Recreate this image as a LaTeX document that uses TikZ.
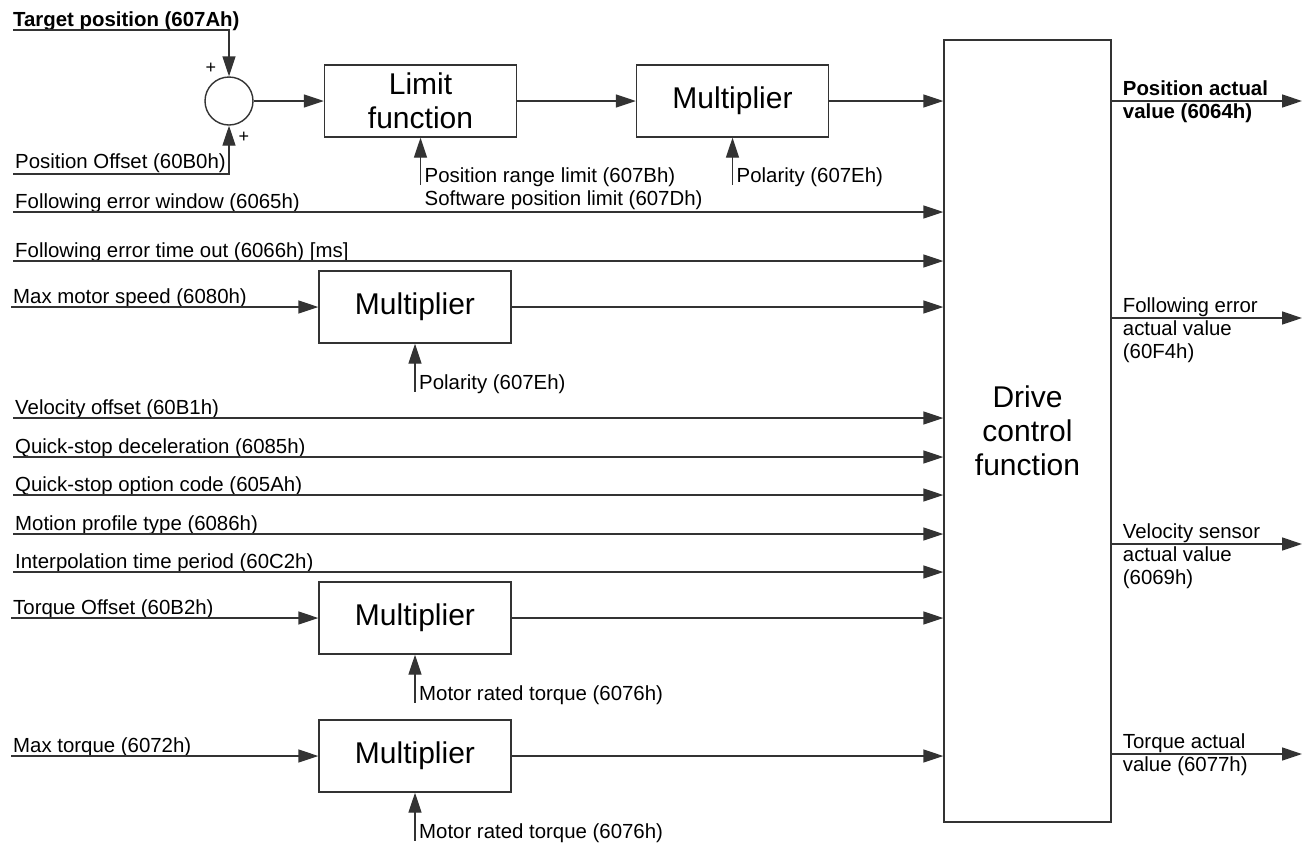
\documentclass[tikz,border=0pt]{standalone}
\usepackage{fontspec}
\setmainfont{Liberation Sans}
\usetikzlibrary{arrows.meta}
\usetikzlibrary{positioning}
\tikzset{
    blk/.style={draw=black!80, line width=1.4pt, minimum width=192pt, minimum height=72pt, align=center, inner sep=0pt, font=\fontsize{30}{34}\selectfont},
    sig/.style={draw=black!80, line width=1.4pt, -{Triangle[length=20pt,width=13pt]}},
    lbl/.style={anchor=base west, inner sep=0pt, font=\fontsize{20.4}{23}\selectfont},
    pm/.style={inner sep=0pt, font=\fontsize{18}{20}\selectfont}
}
\newcommand{\stack}[1]{\begin{tabular}[t]{@{}l@{}}#1\end{tabular}}

\begin{document}
\begin{tikzpicture}[x=1pt,y=-1pt]
\useasboundingbox (0,0) rectangle (1312,847);
% blocks
\node[blk, minimum width=167pt, minimum height=782pt] (dcf) at (1027.5,431) {Drive\\control\\function};
\node[draw=black!80, line width=1.4pt, circle, minimum size=48pt, inner sep=0pt] (sum) at (229,101) {};
\node[blk] (lim) at (420.5,101) {Limit\\function};
\node[blk] (mulp) at (732.5,101) {Multiplier};
\node[blk] (mulv) at (415,307) {Multiplier};
\node[blk] (mult) at (415,618) {Multiplier};
\node[blk] (mulm) at (415,756) {Multiplier};
% summing point
\coordinate (tp) at (13,30);
\coordinate (po) at (13,174);
\node[lbl, font=\fontsize{20.4}{23}\selectfont\bfseries] (ttp) at ([yshift=4pt]tp) {Target position (607Ah)};
\node[lbl] (tpo) at ([xshift=2pt,yshift=6pt]po) {Position Offset (60B0h)};
\draw[sig] (tp) -| (sum.north);
\draw[sig] (po) -| (sum.south);
\node[pm] (p1) at (211,68) {+};
\node[pm] (p2) at (244,137) {+};
\draw[sig] (sum) -- (lim);
\draw[sig] (lim) -- (mulp);
\draw[sig] (mulp.east) -- (mulp.east -| dcf.west);
% limits and polarity of the position path
\coordinate[below=47pt of lim] (plim);
\coordinate[below=47pt of mulp] (ppol);
\draw[sig] (plim) -- (lim);
\draw[sig] (ppol) -- (mulp);
\node[lbl] (tlim) at ([xshift=4pt,yshift=2pt]plim) {\stack{Position range limit (607Bh)\\Software position limit (607Dh)}};
\node[lbl] (tpol) at ([xshift=4pt,yshift=2pt]ppol) {Polarity (607Eh)};
% direct inputs
\foreach \y/\p/\t in {212/few/{Following error window (6065h)}, 261/fet/{Following error time out (6066h) [ms]}, 418/vof/{Velocity offset (60B1h)}, 457/qsd/{Quick-stop deceleration (6085h)}, 495/qso/{Quick-stop option code (605Ah)}, 534/mpt/{Motion profile type (6086h)}, 572/itp/{Interpolation time period (60C2h)}}{
    \coordinate (\p) at (13,\y);
    \node[lbl] (t\p) at ([xshift=2pt,yshift=4pt]\p) {\t};
    \draw[sig] (\p) -- (\p -| dcf.west);
}
% inputs through a multiplier
\foreach \b/\p/\t/\s/\q in {mulv/mms/{Max motor speed (6080h)}/pv/{Polarity (607Eh)}, mult/tof/{Torque Offset (60B2h)}/rt1/{Motor rated torque (6076h)}, mulm/mtq/{Max torque (6072h)}/rt2/{Motor rated torque (6076h)}}{
    \coordinate (\p) at (11,0 |- \b.west);
    \node[lbl] (t\p) at ([xshift=2pt,yshift=4pt]\p) {\t};
    \draw[sig] (\p) -- (\b);
    \draw[sig] (\b.east) -- (\b.east -| dcf.west);
    \coordinate[below=48pt of \b] (\s);
    \draw[sig] (\s) -- (\b);
    \node[lbl] (t\s) at ([xshift=4pt,yshift=2pt]\s) {\q};
}
% outputs
\foreach \y/\p/\t in {101/pav/{\bfseries Position actual\\\bfseries value (6064h)}, 318/fea/{Following error\\actual value\\(60F4h)}, 544/vsa/{Velocity sensor\\actual value\\(6069h)}, 754/tav/{Torque actual\\value (6077h)}}{
    \coordinate (\p) at (1302,\y);
    \coordinate (o\p) at (dcf.east |- \p);
    \draw[sig] (o\p) -- (\p);
    \node[lbl] (t\p) at ([xshift=11pt,yshift=6pt]o\p) {\stack{\t}};
}
\end{tikzpicture}
\end{document}
